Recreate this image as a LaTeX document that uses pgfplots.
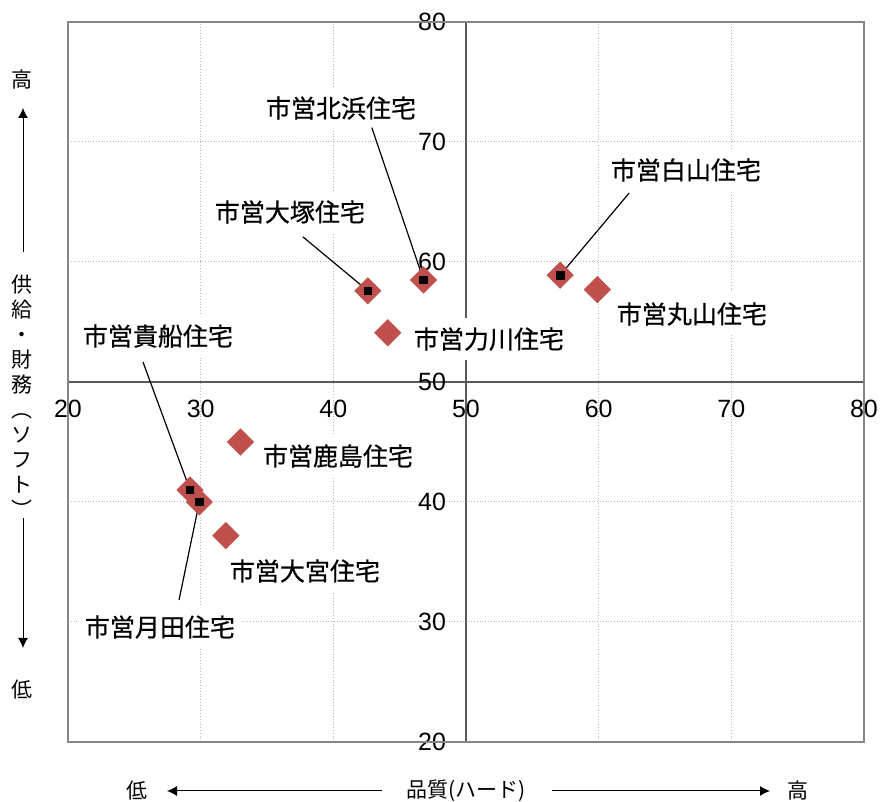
\documentclass[border=0pt]{standalone}
\usepackage{pgfplots}
\pgfplotsset{compat=1.18}
\usepackage{pgfplotstable}
\usepackage{fontspec}
\setmainfont{Noto Sans CJK JP}
\newfontfamily\labfont{Noto Sans CJK JP}[FakeBold=0.6]
\newfontfamily\numfont{Liberation Sans}
\usetikzlibrary{arrows.meta}
\definecolor{mred}{RGB}{192,80,77}
\definecolor{axisgray}{RGB}{89,89,89}
\definecolor{framegray}{RGB}{134,134,134}
\definecolor{gridgray}{RGB}{185,185,185}
\tikzset{lab/.style={fill=white, inner xsep=3pt, inner ysep=4.5pt, font=\labfont\fontsize{12.5}{15}\selectfont}}

% all points (quality, supply/finance)
\pgfplotstableread{
x y
42.6 57.6
46.8 58.5
44.1 54.1
57.1 58.9
59.9 57.7
33.0 45.0
29.2 41.0
29.9 40.0
31.9 37.2
}\pts
% points with leader lines
\pgfplotstableread{
x y
42.6 57.6
46.8 58.5
57.1 58.9
29.2 41.0
29.9 40.0
}\ptsmark

\begin{document}
\begin{tikzpicture}[x=1pt,y=1pt]
\path[use as bounding box] (0,0) rectangle (440,401);
\begin{axis}[
  at={(34pt,30pt)}, anchor=south west, scale only axis,
  width=398pt, height=360pt,
  xmin=-30, xmax=30, ymin=-30, ymax=30, enlargelimits=false,
  axis lines=middle,
  axis line style={-, draw=axisgray, line width=0.6pt},
  xtick={-30,-20,...,30}, xticklabels={20,30,40,50,60,70,80},
  ytick={-30,-20,...,30}, yticklabels={20,30,40,50,60,70,80},
  hide obscured x ticks=false, hide obscured y ticks=false,
  major tick length=0pt,
  grid=major, grid style={densely dotted, gridgray, line width=0.5pt},
  tick label style={font=\numfont\fontsize{12.5}{14}\selectfont},
  /pgf/number format/assume math mode=true,
  xticklabel style={anchor=north, yshift=-5.5pt},
  yticklabel style={anchor=east, xshift=-6.5pt},
  clip=false,
]
\draw[framegray, line width=0.75pt] (rel axis cs:0,0) rectangle (rel axis cs:1,1);

\addplot[only marks, mark=square*, mark size=4.6pt, mark options={rotate=45, fill=mred, draw=mred}]
  table[x expr=\thisrow{x}-50, y expr=\thisrow{y}-50] {\pts};

% labels
\node[lab] at (axis cs:-9.42,22.83) {市営北浜住宅};
\node[lab] at (axis cs:-13.27,14.17) {市営大塚住宅};
\node[lab] at (axis cs:16.58,17.67) {市営白山住宅};
\node[lab] at (axis cs:17.03,5.67) {市営丸山住宅};
\node[lab] at (axis cs:1.73,3.58) {市営力川住宅};
\node[lab] at (axis cs:-23.22,3.83) {市営貴船住宅};
\node[lab] at (axis cs:-9.65,-6.17) {市営鹿島住宅};
\node[lab] at (axis cs:-12.14,-15.75) {市営大宮住宅};
\node[lab] at (axis cs:-23.07,-20.42) {市営月田住宅};

% leader lines
\addplot[black, line width=0.6pt, no marks] table[x expr=\thisrow{x}-50, y expr=\thisrow{y}-50] {
x y
42.9 71.2
46.8 58.5
};
\addplot[black, line width=0.6pt, no marks] table[x expr=\thisrow{x}-50, y expr=\thisrow{y}-50] {
x y
37.7 62.1
42.6 57.6
};
\addplot[black, line width=0.6pt, no marks] table[x expr=\thisrow{x}-50, y expr=\thisrow{y}-50] {
x y
62.3 65.75
57.1 58.9
};
\addplot[black, line width=0.6pt, no marks] table[x expr=\thisrow{x}-50, y expr=\thisrow{y}-50] {
x y
25.65 51.67
29.2 41.0
};
\addplot[black, line width=0.6pt, no marks] table[x expr=\thisrow{x}-50, y expr=\thisrow{y}-50] {
x y
28.37 31.83
29.9 40.0
};
\addplot[only marks, mark=square*, mark size=1.9pt, mark options={fill=black, draw=black}]
  table[x expr=\thisrow{x}-50, y expr=\thisrow{y}-50] {\ptsmark};
\end{axis}

% left vertical title
\node[font=\fontsize{10.5}{12.5}\selectfont] at (11,361) {高};
\draw[-{Latex[length=5pt,width=5pt]}, line width=0.5pt] (11.5,275) -- (11.5,347);
\node[align=center, font=\fontsize{10.5}{12.5}\selectfont] at (11,203) {供\\給\\・\\財\\務\\︵\\ソ\\フ\\ト\\︶};
\draw[-{Latex[length=5pt,width=5pt]}, line width=0.5pt] (11.5,142) -- (11.5,77);
\node[font=\fontsize{10.5}{12.5}\selectfont] at (11,56) {低};

% bottom title
\node[font=\fontsize{10.5}{12.5}\selectfont] at (68.5,5.5) {低};
\draw[-{Latex[length=5pt,width=5pt]}, line width=0.5pt] (191,5.5) -- (83.5,5.5);
\node[font=\fontsize{10.5}{12.5}\selectfont] at (233,5.5) {品質(ハード)};
\draw[-{Latex[length=5pt,width=5pt]}, line width=0.5pt] (276,5.5) -- (385,5.5);
\node[font=\fontsize{10.5}{12.5}\selectfont] at (399,5.5) {高};
\end{tikzpicture}
\end{document}
